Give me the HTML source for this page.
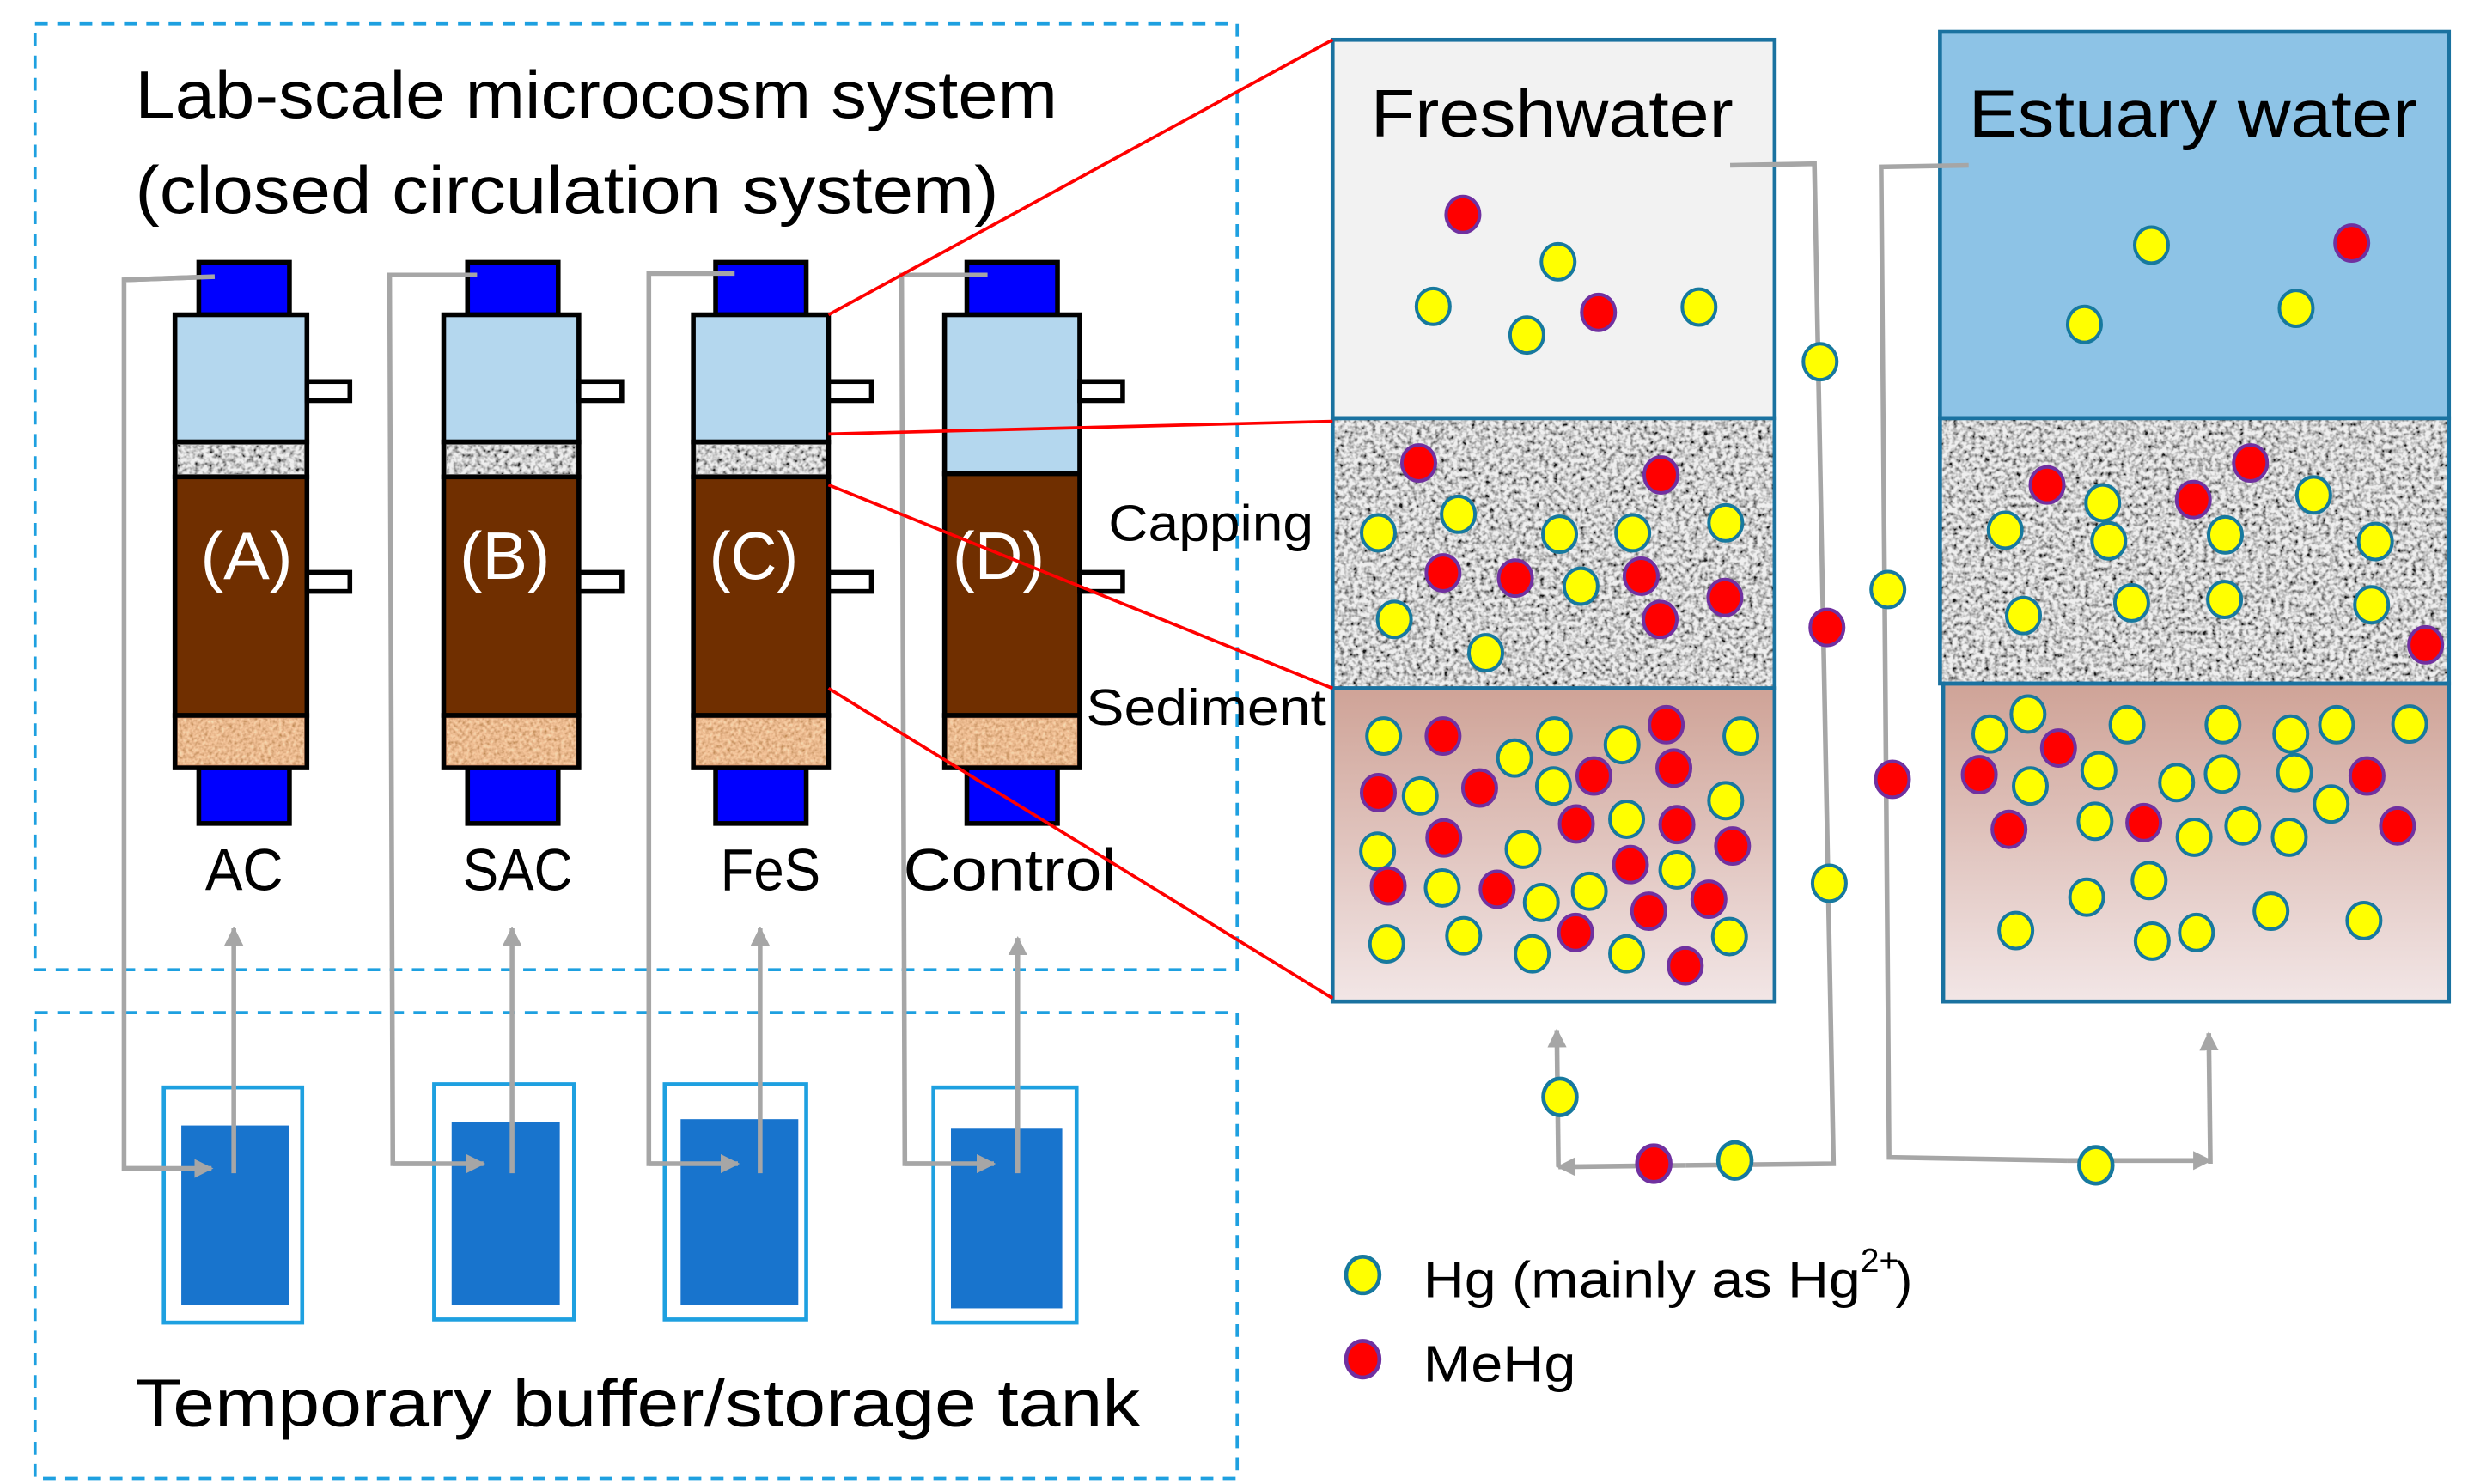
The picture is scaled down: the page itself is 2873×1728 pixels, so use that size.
<!DOCTYPE html>
<html><head><meta charset="utf-8"><style>html,body{margin:0;padding:0;background:#fff}svg{display:block}</style></head>
<body>
<svg xmlns="http://www.w3.org/2000/svg" xmlns:xlink="http://www.w3.org/1999/xlink" width="2873" height="1728" viewBox="0 0 1552 933.5" font-family="Liberation Sans, sans-serif">
<defs>
<filter id="gray" x="0" y="0" width="100%" height="100%">
<feTurbulence type="fractalNoise" baseFrequency="0.35" numOctaves="2" seed="5" result="t"/>
<feColorMatrix in="t" type="matrix" values="2.4 0 0 0 -0.5  2.4 0 0 0 -0.5  2.4 0 0 0 -0.5  0 0 0 0 1"/>
</filter>
<filter id="sand" x="0" y="0" width="100%" height="100%">
<feTurbulence type="fractalNoise" baseFrequency="0.45" numOctaves="2" seed="9" result="t"/>
<feColorMatrix in="t" type="matrix" values="1.2 0 0 0 0.3  1.0 0 0 0 0.1  0.8 0 0 0 -0.05  0 0 0 0 1"/>
</filter>
<linearGradient id="sed" x1="0" y1="0" x2="0" y2="1"><stop offset="0" stop-color="#cfa397"/><stop offset="1" stop-color="#f2e6e6"/></linearGradient>
<marker id="ah" viewBox="0 0 10 10" refX="9" refY="5" markerWidth="4" markerHeight="4" orient="auto-start-reverse"><path d="M0,0L10,5L0,10z" fill="#a6a6a6"/></marker>
<ellipse id="y" rx="22" ry="27" fill="#ffff00" stroke="#17799e" stroke-width="4" vector-effect="non-scaling-stroke"/>
<ellipse id="r" rx="22" ry="27" fill="#ff0000" stroke="#7030a0" stroke-width="4" vector-effect="non-scaling-stroke"/>
</defs>

<rect x="22" y="15" width="756" height="595" fill="none" stroke="#1ea0e0" stroke-width="2" stroke-dasharray="8,6"/>
<rect x="22" y="637" width="756" height="293" fill="none" stroke="#1ea0e0" stroke-width="2" stroke-dasharray="8,6"/>

<text x="85" y="74" font-size="42" textLength="580" lengthAdjust="spacingAndGlyphs">Lab-scale microcosm system</text>
<text x="85" y="134" font-size="42" textLength="543" lengthAdjust="spacingAndGlyphs">(closed circulation system)</text>
<text x="85" y="897" font-size="42" textLength="632" lengthAdjust="spacingAndGlyphs">Temporary buffer/storage tank</text>

<g stroke="#a6a6a6" stroke-width="3" fill="none">
<polyline points="135,174 78,176 78,735 133,735"/>
<polyline points="300,173 245,173 247,732 304,732"/>
<polyline points="462,172 408,172 408,732 464,732"/>
<polyline points="621,173 567,173 569,732 625,732"/>
</g>

<g stroke="#000" stroke-width="3">
<rect x="125" y="165" width="57" height="33" fill="#0000ff"/>
<rect x="125" y="483" width="57" height="35" fill="#0000ff"/>
<rect x="110" y="198" width="83" height="80" fill="#b4d7ee"/>
<rect x="110" y="278" width="83" height="22" fill="#aaa"/>
<rect x="110" y="300" width="83" height="150" fill="#702f00"/>
<rect x="110" y="450" width="83" height="33" fill="#d9936a"/>
<rect x="193" y="240" width="27" height="12" fill="#fff"/><rect x="193" y="360" width="27" height="12" fill="#fff"/>
<rect x="294" y="165" width="57" height="33" fill="#0000ff"/>
<rect x="294" y="483" width="57" height="35" fill="#0000ff"/>
<rect x="279" y="198" width="85" height="80" fill="#b4d7ee"/>
<rect x="279" y="278" width="85" height="22" fill="#aaa"/>
<rect x="279" y="300" width="85" height="150" fill="#702f00"/>
<rect x="279" y="450" width="85" height="33" fill="#d9936a"/>
<rect x="364" y="240" width="27" height="12" fill="#fff"/><rect x="364" y="360" width="27" height="12" fill="#fff"/>
<rect x="450" y="165" width="57" height="33" fill="#0000ff"/>
<rect x="450" y="483" width="57" height="35" fill="#0000ff"/>
<rect x="436" y="198" width="85" height="80" fill="#b4d7ee"/>
<rect x="436" y="278" width="85" height="22" fill="#aaa"/>
<rect x="436" y="300" width="85" height="150" fill="#702f00"/>
<rect x="436" y="450" width="85" height="33" fill="#d9936a"/>
<rect x="521" y="240" width="27" height="12" fill="#fff"/><rect x="521" y="360" width="27" height="12" fill="#fff"/>
<rect x="608" y="165" width="57" height="33" fill="#0000ff"/>
<rect x="608" y="483" width="57" height="35" fill="#0000ff"/>
<rect x="594" y="198" width="85" height="100" fill="#b4d7ee"/>
<rect x="594" y="298" width="85" height="152" fill="#702f00"/>
<rect x="594" y="450" width="85" height="33" fill="#d9936a"/>
<rect x="679" y="240" width="27" height="12" fill="#fff"/><rect x="679" y="360" width="27" height="12" fill="#fff"/>
</g>
<g opacity="0.8">
<rect x="112" y="280" width="79" height="18" filter="url(#gray)"/>
<rect x="281" y="280" width="81" height="18" filter="url(#gray)"/>
<rect x="438" y="280" width="81" height="18" filter="url(#gray)"/>
</g>
<g opacity="0.7">
<rect x="112" y="452" width="79" height="29" filter="url(#sand)"/>
<rect x="281" y="452" width="81" height="29" filter="url(#sand)"/>
<rect x="438" y="452" width="81" height="29" filter="url(#sand)"/>
<rect x="596" y="452" width="81" height="29" filter="url(#sand)"/>
</g>
<g stroke="#a6a6a6" stroke-width="3">
<line x1="78" y1="176" x2="135" y2="174"/><line x1="245" y1="173" x2="300" y2="173"/><line x1="408" y1="172" x2="462" y2="172"/><line x1="567" y1="173" x2="621" y2="173"/>
</g>

<g fill="#fff" font-size="42">
<text x="126" y="364" textLength="58" lengthAdjust="spacingAndGlyphs">(A)</text>
<text x="289" y="364" textLength="57" lengthAdjust="spacingAndGlyphs">(B)</text>
<text x="446" y="364" textLength="56" lengthAdjust="spacingAndGlyphs">(C)</text>
<text x="599" y="364" textLength="58" lengthAdjust="spacingAndGlyphs">(D)</text>
</g>
<g font-size="37">
<text x="129" y="560" textLength="49" lengthAdjust="spacingAndGlyphs">AC</text>
<text x="291" y="560" textLength="69" lengthAdjust="spacingAndGlyphs">SAC</text>
<text x="453" y="560" textLength="63" lengthAdjust="spacingAndGlyphs">FeS</text>
<text x="568" y="560" textLength="134" lengthAdjust="spacingAndGlyphs">Control</text>
</g>

<g stroke="#1ea0e0" stroke-width="2.5" fill="#fff">
<rect x="103" y="684" width="87" height="148"/><rect x="273" y="682" width="88" height="148"/>
<rect x="418" y="682" width="89" height="148"/><rect x="587" y="684" width="90" height="148"/>
</g>
<g fill="#1874cd">
<rect x="114" y="708" width="68" height="113"/><rect x="284" y="706" width="68" height="115"/>
<rect x="428" y="704" width="74" height="117"/><rect x="598" y="710" width="70" height="113"/>
</g>
<g stroke="#a6a6a6" stroke-width="3" fill="none">
<line x1="78" y1="735" x2="133" y2="735" marker-end="url(#ah)"/>
<line x1="147" y1="738" x2="147" y2="584" marker-end="url(#ah)"/>
<line x1="247" y1="732" x2="304" y2="732" marker-end="url(#ah)"/>
<line x1="322" y1="738" x2="322" y2="584" marker-end="url(#ah)"/>
<line x1="408" y1="732" x2="464" y2="732" marker-end="url(#ah)"/>
<line x1="478" y1="738" x2="478" y2="584" marker-end="url(#ah)"/>
<line x1="569" y1="732" x2="625" y2="732" marker-end="url(#ah)"/>
<line x1="640" y1="738" x2="640" y2="590" marker-end="url(#ah)"/>
</g>

<rect x="838" y="25" width="278" height="238" fill="#f2f2f2"/>
<rect x="838" y="263" width="278" height="170" fill="#999"/>
<rect x="838" y="263" width="278" height="170" filter="url(#gray)" opacity="0.85"/>
<rect x="838" y="433" width="278" height="197" fill="url(#sed)"/>
<rect x="1220" y="20" width="320" height="243" fill="#8dc3e6"/>
<rect x="1220" y="263" width="320" height="167" fill="#999"/>
<rect x="1220" y="263" width="320" height="167" filter="url(#gray)" opacity="0.85"/>
<rect x="1222" y="430" width="318" height="200" fill="url(#sed)"/>
<g fill="none" stroke="#1a72a0" stroke-width="2.5">
<rect x="838" y="25" width="278" height="238"/><rect x="838" y="263" width="278" height="170"/><rect x="838" y="433" width="278" height="197"/>
<rect x="1220" y="20" width="320" height="243"/><rect x="1220" y="263" width="320" height="167"/><rect x="1222" y="430" width="318" height="200"/>
</g>
<text x="862" y="86" font-size="42" textLength="228" lengthAdjust="spacingAndGlyphs">Freshwater</text>
<text x="1238" y="86" font-size="42" textLength="282" lengthAdjust="spacingAndGlyphs">Estuary water</text>
<text x="697" y="340" font-size="32" textLength="129" lengthAdjust="spacingAndGlyphs">Capping</text>
<text x="683" y="456" font-size="32" textLength="151" lengthAdjust="spacingAndGlyphs">Sediment</text>

<g stroke="#ff0000" stroke-width="2">
<line x1="521" y1="198" x2="838" y2="25"/><line x1="521" y1="273" x2="838" y2="265"/>
<line x1="521" y1="305" x2="838" y2="433"/><line x1="521" y1="433" x2="838" y2="628"/>
</g>

<g stroke="#a6a6a6" stroke-width="3" fill="none">
<polyline points="1088,104 1141,103 1153,732 1060,733"/>
<line x1="1060" y1="733" x2="980" y2="734" marker-end="url(#ah)"/>
<line x1="980" y1="734" x2="979" y2="648" marker-end="url(#ah)"/>
<polyline points="1238,104 1183,105 1188,728 1300,730"/>
<line x1="1300" y1="730" x2="1390" y2="730" marker-end="url(#ah)"/>
<line x1="1390" y1="732" x2="1389" y2="650" marker-end="url(#ah)"/>
</g>

<g transform="translate(817.9,0) scale(0.479,0.419)">
<use xlink:href="#r" x="213" y="322"/><use xlink:href="#y" x="338" y="393"/><use xlink:href="#y" x="174" y="460"/><use xlink:href="#y" x="297" y="503"/><use xlink:href="#r" x="391" y="469"/><use xlink:href="#y" x="523" y="461"/>
<use xlink:href="#r" x="155" y="695"/><use xlink:href="#r" x="473" y="713"/><use xlink:href="#y" x="102" y="800"/><use xlink:href="#y" x="207" y="772"/><use xlink:href="#y" x="340" y="802"/><use xlink:href="#y" x="436" y="800"/><use xlink:href="#y" x="558" y="785"/><use xlink:href="#r" x="187" y="860"/><use xlink:href="#r" x="282" y="868"/><use xlink:href="#y" x="368" y="880"/><use xlink:href="#r" x="447" y="865"/><use xlink:href="#r" x="557" y="897"/><use xlink:href="#y" x="123" y="930"/><use xlink:href="#r" x="472" y="930"/><use xlink:href="#y" x="243" y="980"/>
<use xlink:href="#y" x="109" y="1105"/><use xlink:href="#r" x="187" y="1105"/><use xlink:href="#y" x="333" y="1105"/><use xlink:href="#y" x="422" y="1118"/><use xlink:href="#r" x="480" y="1088"/><use xlink:href="#y" x="578" y="1105"/><use xlink:href="#y" x="281" y="1138"/><use xlink:href="#r" x="385" y="1165"/><use xlink:href="#r" x="490" y="1153"/><use xlink:href="#r" x="102" y="1190"/><use xlink:href="#y" x="157" y="1195"/><use xlink:href="#r" x="235" y="1183"/><use xlink:href="#y" x="332" y="1180"/><use xlink:href="#y" x="558" y="1202"/><use xlink:href="#r" x="188" y="1258"/><use xlink:href="#r" x="362" y="1237"/><use xlink:href="#y" x="428" y="1230"/><use xlink:href="#r" x="494" y="1238"/><use xlink:href="#y" x="101" y="1278"/><use xlink:href="#y" x="292" y="1275"/><use xlink:href="#r" x="567" y="1270"/><use xlink:href="#r" x="433" y="1298"/><use xlink:href="#y" x="494" y="1306"/><use xlink:href="#r" x="115" y="1330"/><use xlink:href="#y" x="186" y="1333"/><use xlink:href="#r" x="258" y="1335"/><use xlink:href="#y" x="316" y="1355"/><use xlink:href="#y" x="379" y="1338"/><use xlink:href="#r" x="457" y="1368"/><use xlink:href="#r" x="536" y="1350"/><use xlink:href="#y" x="113" y="1417"/><use xlink:href="#y" x="214" y="1405"/><use xlink:href="#y" x="304" y="1432"/><use xlink:href="#r" x="361" y="1400"/><use xlink:href="#y" x="428" y="1432"/><use xlink:href="#y" x="563" y="1406"/><use xlink:href="#r" x="505" y="1450"/>
<use xlink:href="#y" x="682" y="543"/><use xlink:href="#r" x="691" y="942"/><use xlink:href="#y" x="694" y="1326"/><use xlink:href="#y" x="771" y="885"/><use xlink:href="#r" x="777" y="1170"/>
<use xlink:href="#y" x="1117" y="368"/><use xlink:href="#r" x="1380" y="365"/><use xlink:href="#y" x="1029" y="487"/><use xlink:href="#y" x="1307" y="463"/>
<use xlink:href="#r" x="980" y="728"/><use xlink:href="#y" x="1053" y="755"/><use xlink:href="#r" x="1172" y="750"/><use xlink:href="#r" x="1247" y="695"/><use xlink:href="#y" x="1330" y="743"/><use xlink:href="#y" x="925" y="796"/><use xlink:href="#y" x="1061" y="812"/><use xlink:href="#y" x="1214" y="803"/><use xlink:href="#y" x="1411" y="813"/><use xlink:href="#y" x="949" y="924"/><use xlink:href="#y" x="1091" y="905"/><use xlink:href="#y" x="1213" y="900"/><use xlink:href="#y" x="1406" y="908"/><use xlink:href="#r" x="1477" y="968"/>
<use xlink:href="#y" x="905" y="1102"/><use xlink:href="#y" x="955" y="1072"/><use xlink:href="#r" x="995" y="1123"/><use xlink:href="#y" x="1085" y="1088"/><use xlink:href="#y" x="1211" y="1088"/><use xlink:href="#y" x="1300" y="1102"/><use xlink:href="#y" x="1360" y="1088"/><use xlink:href="#y" x="1456" y="1087"/><use xlink:href="#r" x="891" y="1163"/><use xlink:href="#y" x="958" y="1180"/><use xlink:href="#y" x="1048" y="1157"/><use xlink:href="#y" x="1150" y="1175"/><use xlink:href="#y" x="1210" y="1162"/><use xlink:href="#y" x="1305" y="1160"/><use xlink:href="#r" x="1400" y="1165"/><use xlink:href="#y" x="1353" y="1207"/><use xlink:href="#r" x="930" y="1245"/><use xlink:href="#y" x="1043" y="1233"/><use xlink:href="#r" x="1107" y="1235"/><use xlink:href="#y" x="1173" y="1257"/><use xlink:href="#y" x="1237" y="1240"/><use xlink:href="#y" x="1298" y="1257"/><use xlink:href="#r" x="1440" y="1240"/><use xlink:href="#y" x="1114" y="1322"/><use xlink:href="#y" x="1032" y="1347"/><use xlink:href="#y" x="1274" y="1368"/><use xlink:href="#y" x="1396" y="1382"/><use xlink:href="#y" x="939" y="1397"/><use xlink:href="#y" x="1118" y="1413"/><use xlink:href="#y" x="1176" y="1400"/>
</g>
<ellipse cx="981" cy="690" rx="10.5" ry="11.5" fill="#ffff00" stroke="#17799e" stroke-width="2.5"/>
<ellipse cx="1040" cy="732" rx="10.5" ry="11.5" fill="#ff0000" stroke="#7030a0" stroke-width="2.5"/>
<ellipse cx="1091" cy="730" rx="10.5" ry="11.5" fill="#ffff00" stroke="#17799e" stroke-width="2.5"/>
<ellipse cx="1318" cy="733" rx="10.5" ry="11.5" fill="#ffff00" stroke="#17799e" stroke-width="2.5"/>
<ellipse cx="857" cy="802" rx="10.5" ry="11.5" fill="#ffff00" stroke="#17799e" stroke-width="2.5"/>
<ellipse cx="857" cy="855" rx="10.5" ry="11.5" fill="#ff0000" stroke="#7030a0" stroke-width="2.5"/>
<text x="895" y="816" font-size="32" textLength="275" lengthAdjust="spacingAndGlyphs">Hg (mainly as Hg</text>
<text x="1170" y="800" font-size="21">2+</text>
<text x="1192" y="816" font-size="32">)</text>
<text x="895" y="869" font-size="32" textLength="96" lengthAdjust="spacingAndGlyphs">MeHg</text>
</svg>
</body></html>
